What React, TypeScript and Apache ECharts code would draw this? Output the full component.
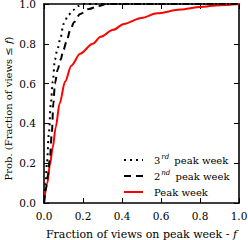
import React, { useEffect, useRef } from "react";
import * as echarts from "echarts";

const xTicks = [0, 0.2, 0.4, 0.6, 0.8, 1.0];
const yTicks = [0, 0.2, 0.4, 0.6, 0.8, 1.0];

const peakF = [0, 0.017, 0.03, 0.045, 0.06, 0.08, 0.108, 0.14, 0.185, 0.25, 0.29, 0.355, 0.41, 0.5, 0.58, 0.7, 0.8, 0.9, 1.0];
const peakP = [0, 0.1, 0.19, 0.28, 0.38, 0.5, 0.61, 0.69, 0.75, 0.8, 0.835, 0.87, 0.9, 0.93, 0.953, 0.972, 0.985, 0.994, 1.0];

const secondF = [0, 0.01, 0.02, 0.03, 0.04, 0.048, 0.056, 0.07, 0.085, 0.1, 0.115, 0.135, 0.155, 0.185, 0.23, 0.28, 0.32, 1.0];
const secondP = [0, 0.07, 0.14, 0.22, 0.35, 0.5, 0.6, 0.67, 0.72, 0.77, 0.81, 0.87, 0.91, 0.95, 0.975, 0.99, 1.0, 1.0];

const thirdF = [0, 0.008, 0.015, 0.025, 0.035, 0.045, 0.056, 0.068, 0.085, 0.1, 0.125, 0.15, 0.176, 0.2, 1.0];
const thirdP = [0, 0.1, 0.2, 0.35, 0.5, 0.61, 0.72, 0.77, 0.83, 0.9, 0.945, 0.97, 0.99, 1.0, 1.0];

const FONT = "'DejaVu Serif', 'Liberation Serif', serif";

const zip = (a: number[], b: number[]) => a.map((v, i) => [v, b[i]]);

export default function App() {
  const ref = useRef<HTMLDivElement>(null);
  useEffect(() => {
    if (!ref.current) return;
    const chart = echarts.init(ref.current, undefined, { renderer: "svg" });
    const axisCommon = {
      type: "value" as const,
      min: 0,
      max: 1,
      interval: 0.2,
      splitLine: { show: false },
      axisLine: { show: true, onZero: false, lineStyle: { color: "#000", width: 1.6 } },
      axisTick: { show: true, inside: true, length: 5, lineStyle: { color: "#000", width: 1 } },
    };
    const labelStyle = {
      color: "#000",
      fontFamily: FONT,
      fontSize: 10.5,
      formatter: (v: number) => v.toFixed(1),
    };
    const rich = {
      i: { fontStyle: "italic" as const, fontFamily: FONT, fontSize: 11, color: "#000" },
    };
    chart.setOption({
      animation: false,
      textStyle: { fontFamily: FONT },
      grid: { left: 44, right: 9, top: 4, bottom: 37, outerBoundsMode: "none" },
      xAxis: [
        {
          ...axisCommon,
          position: "bottom",
          axisLabel: { ...labelStyle, margin: 7 },
          name: "Fraction of views on peak week - {i|f}",
          nameLocation: "middle",
          nameGap: 26,
          nameMoveOverlap: false,
          nameTextStyle: { color: "#000", fontFamily: FONT, fontSize: 11, rich },
        },
        {
          ...axisCommon,
          position: "top",
          axisLabel: { show: false },
        },
      ],
      yAxis: [
        {
          ...axisCommon,
          position: "left",
          axisLabel: { ...labelStyle, margin: 8 },
          name: "Prob. (Fraction of views \u2264 {i|f})",
          nameLocation: "middle",
          nameGap: 30,
          nameMoveOverlap: false,
          nameTextStyle: {
            color: "#000",
            fontFamily: FONT,
            fontSize: 10,
            lineHeight: 12,
            rich: { i: { ...rich.i, fontSize: 10, lineHeight: 12 } },
            padding: [0, 10, 0, 0],
          },
        },
        {
          ...axisCommon,
          position: "right",
          axisLabel: { show: false },
        },
      ],
      legend: {
        orient: "vertical",
        left: 118,
        top: 148,
        itemWidth: 19,
        itemHeight: 10,
        itemGap: 2,
        itemStyle: { opacity: 0 },
        data: ["3rd", "2nd", "Peak week"],
        formatter: (name: string) => {
          if (name === "3rd") return "{n|3}{s|rd} peak week";
          if (name === "2nd") return "{n|2}{s|nd} peak week";
          return name;
        },
        textStyle: {
          color: "#000",
          fontFamily: FONT,
          fontSize: 10,
          lineHeight: 14,
          padding: [0, 0, 0, 6],
          rich: {
            n: { fontFamily: FONT, fontSize: 10, color: "#000", lineHeight: 14 },
            s: { fontFamily: FONT, fontSize: 7, fontStyle: "italic", color: "#000", verticalAlign: "top", lineHeight: 14, padding: [0, 2, 5, 1] },
          },
        },
      },
      series: [
        {
          name: "3rd",
          type: "line",
          data: zip(thirdF, thirdP),
          showSymbol: false,
          symbol: "none",
          smooth: 0.3,
          smoothMonotone: "x",
          lineStyle: { color: "#000", width: 2, type: [2, 4] },
          itemStyle: { color: "#000" },
          z: 3,
        },
        {
          name: "2nd",
          type: "line",
          data: zip(secondF, secondP),
          showSymbol: false,
          symbol: "none",
          smooth: 0.3,
          smoothMonotone: "x",
          lineStyle: { color: "#000", width: 2, type: [7, 5] },
          itemStyle: { color: "#000" },
          z: 3,
        },
        {
          name: "Peak week",
          type: "line",
          data: zip(peakF, peakP),
          showSymbol: false,
          symbol: "none",
          smooth: 0.3,
          smoothMonotone: "x",
          lineStyle: { color: "#ff0000", width: 2 },
          itemStyle: { color: "#ff0000" },
          z: 2,
        },
      ],
    });
    return () => chart.dispose();
  }, []);
  return (
    <div
      ref={ref}
      style={{ position: "fixed", left: 0, top: 0, width: 248, height: 240, background: "#fff" }}
    />
  );
}
